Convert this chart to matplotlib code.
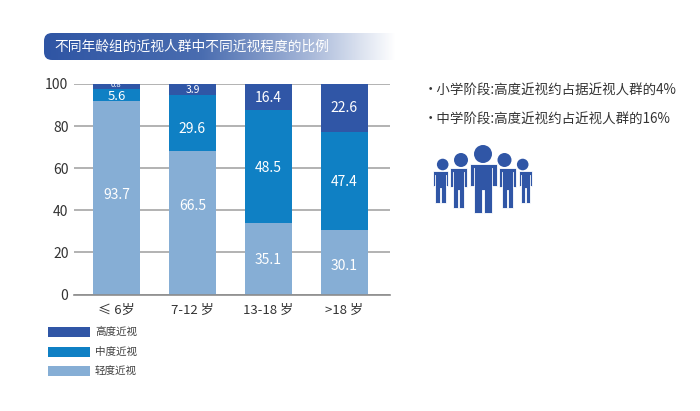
import numpy as np
import matplotlib
matplotlib.use("Agg")
import matplotlib.pyplot as plt
from matplotlib.colors import LinearSegmentedColormap
from matplotlib.patches import FancyBboxPatch, Polygon, Circle, Rectangle

plt.rcParams['font.family'] = ['Noto Sans CJK SC', 'DejaVu Sans']

title = "不同年龄组的近视人群中不同近视程度的比例"
categories = ["≤ 6岁", "7-12 岁", "13-18 岁", ">18 岁"]
series_names = ["高度近视", "中度近视", "轻度近视"]
# Printed labels
mild_labels = ["93.7", "66.5", "35.1", "30.1"]
moderate_labels = ["5.6", "29.6", "48.5", "47.4"]
severe_labels = ["0.8", "3.9", "16.4", "22.6"]
# Segment heights as drawn in the picture
mild = [91.8, 68.0, 34.0, 30.6]
moderate = [5.8, 27.0, 53.6, 46.6]
severe = [2.4, 5.0, 12.4, 22.8]
notes = ["·小学阶段:高度近视约占据近视人群的4%", "·中学阶段:高度近视约占近视人群的16%"]

DARK, MID, LIGHT = "#3056a6", "#0f80c4", "#86aed5"
TXT = "#333333"

W, H = 700, 411
fig = plt.figure(figsize=(W / 100, H / 100), dpi=100, facecolor="white")

# Overlay in pixel coordinates for decoration
bg = fig.add_axes([0, 0, 1, 1])
bg.set_xlim(0, W); bg.set_ylim(H, 0); bg.axis("off")

# Banner with gradient
cmap = LinearSegmentedColormap.from_list("b", [(0, "#2f55a4"), (0.45, "#4a6db0"), (0.75, "#a5b6d8"), (1, "#ffffff")])
im = bg.imshow(np.linspace(0, 1, 256)[None, :], cmap=cmap, extent=(44, 396, 60, 33), aspect="auto", zorder=1)
clip = FancyBboxPatch((50, 39), 400, 15, boxstyle="round,pad=6,rounding_size=8",
                      transform=bg.transData, fc="none", ec="none")
bg.add_patch(clip)
im.set_clip_path(clip)
bg.set_xlim(0, W); bg.set_ylim(H, 0)
bg.text(54, 47, title, color="white", fontsize=9.9, va="center", ha="left", zorder=2)

# Chart
ax = fig.add_axes([74 / W, 1 - 294.5 / H, 316 / W, 210.5 / H])
x = np.arange(len(categories))
mild_a, mod_a, sev_a = map(np.array, (mild, moderate, severe))
ax.bar(x, mild_a, width=0.62, color=LIGHT, zorder=2)
ax.bar(x, mod_a, width=0.62, bottom=mild_a, color=MID, zorder=2)
ax.bar(x, sev_a, width=0.62, bottom=mild_a + mod_a, color=DARK, zorder=2)
ax.set_xlim(-0.559, 3.599)
ax.set_ylim(0, 100)
ax.set_yticks(range(0, 101, 20))
ax.yaxis.grid(True, color="#a6a6a6", lw=1.2, zorder=1)
ax.set_axisbelow(True)
for s in ax.spines.values():
    s.set_visible(False)
ax.tick_params(length=0)
ax.tick_params(axis="y", labelsize=10, labelcolor=TXT, pad=4)
ax.set_xticks(x)
ax.set_xticklabels(categories, fontsize=9.5, color=TXT)
ax.tick_params(axis="x", pad=7)
ax.axhline(0, color="#8c8c8c", lw=1.2, zorder=3, clip_on=False)

mild_pos = [47.2, 42.0, 16.4, 13.6]
moderate_pos = [94.0, 78.4, 60.0, 53.6]
severe_pos = [99.4, 97.2, 93.4, 88.8]
for i in x:
    ax.text(i, mild_pos[i], mild_labels[i], color="white", fontsize=10,
            ha="center", va="center", zorder=4)
    ax.text(i, moderate_pos[i], moderate_labels[i], color="white", fontsize=9.5 if i == 0 else 10,
            ha="center", va="center", zorder=4)
    t = ax.text(i, severe_pos[i], severe_labels[i], color="white",
                fontsize=5.5 if i == 0 else (7.5 if i == 1 else 10), ha="center", va="center", zorder=4)
    t.set_clip_on(True)

# Legend
for name, col, yy in zip(series_names, [DARK, MID, LIGHT], [332, 351.5, 371]):
    bg.add_patch(Rectangle((48, yy - 5), 42, 10, fc=col, ec="none"))
    bg.text(95, yy, name, fontsize=7.6, color="#404040", va="center", ha="left")

# Notes
for s, yy in zip(notes, [91, 120]):
    bg.text(424, yy, s, fontsize=9.7, color=TXT, va="center", ha="left")

# People icon
def person(l, r, head_x, head_y, rad, ys, ya, yc, yf, a):
    mid_x = (l + r) / 2
    g = 0.5 if r - l < 20 else 0.8
    pts = [(l, ys), (r, ys), (r, ya), (r - a, ya), (r - a, yf), (mid_x + g, yf), (mid_x + g, yc),
           (mid_x - g, yc), (mid_x - g, yf), (l + a, yf), (l + a, ya), (l, ya)]
    bg.add_patch(Polygon(pts, closed=True, fc=DARK, ec="white", lw=0.6, zorder=5, joinstyle="round"))
    bg.plot([l + a, l + a], [ys + 4, ya], color="white", lw=0.6, zorder=5.5)
    bg.plot([r - a, r - a], [ys + 4, ya], color="white", lw=0.6, zorder=5.5)
    bg.add_patch(Circle((head_x, head_y), rad, fc=DARK, ec="none", zorder=6))

person(433, 448, 442.7, 164.5, 5.8, 171.5, 186, 188, 203, 2)
person(519, 532, 522.7, 164.5, 5.8, 171.5, 186, 188, 203, 2)
person(450, 467, 461, 160, 7, 168, 187, 190, 208, 3)
person(499, 516, 504.5, 160, 7, 168, 187, 190, 208, 3)
person(469.5, 496.5, 483, 154, 9, 164, 186, 190, 213, 4.5)
bg.set_xlim(0, W); bg.set_ylim(H, 0)

fig.savefig("out.png", dpi=100, facecolor="white")
